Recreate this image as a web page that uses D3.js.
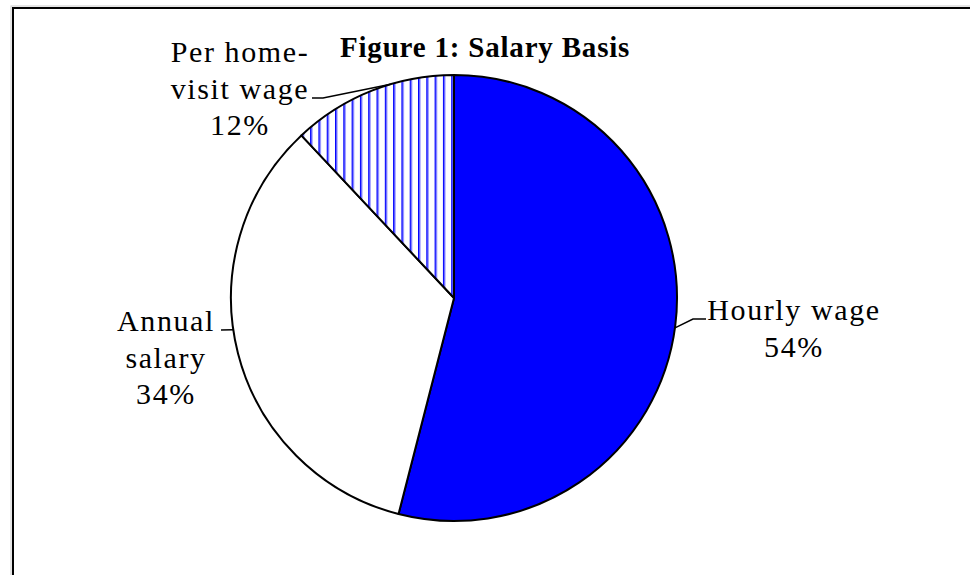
<!DOCTYPE html>
<html><head><meta charset="utf-8">
<script src="https://cdn.jsdelivr.net/npm/d3@7"></script>
<style>
html,body{margin:0;padding:0;background:#fff;overflow:hidden}
svg{display:block}
text{font-family:"Liberation Serif","Times New Roman",serif;fill:#000}
</style></head>
<body>
<script>
// ---- data ----
const categories = ["Hourly wage", "Annual salary", "Per home-visit wage"];
const values = [54, 34, 12];
const labelLines = [["Hourly wage"], ["Annual", "salary"], ["Per home-", "visit wage"]];
const title = "Figure 1: Salary Basis";

// ---- layout ----
const W = 970, H = 575;
const cx = 454, cy = 298, R = 223;
const svg = d3.select("body").append("svg").attr("width", W).attr("height", H);

// frame
svg.append("rect").attr("x", 11).attr("y", 6).attr("width", 1000).attr("height", 600)
  .attr("fill", "none").attr("stroke", "#ccc").attr("stroke-width", 1);
svg.append("rect").attr("x", 13).attr("y", 8).attr("width", 1000).attr("height", 600)
  .attr("fill", "none").attr("stroke", "#000").attr("stroke-width", 2);

// pattern
const defs = svg.append("defs");
const pat = defs.append("pattern").attr("id", "vstripe").attr("patternUnits", "userSpaceOnUse")
  .attr("x", 420.5).attr("y", 0).attr("width", 8.3).attr("height", 10);
pat.append("rect").attr("width", 8.3).attr("height", 10).attr("fill", "#fff");
pat.append("rect").attr("x", 0).attr("width", 1.6).attr("height", 10).attr("fill", "#0000ff");
pat.append("rect").attr("x", 1.6).attr("width", 1).attr("height", 10).attr("fill", "#9999ff");

const fills = ["#0000ff", "#ffffff", "url(#vstripe)"];

const pie = d3.pie().sort(null).value(d => d).startAngle(0).endAngle(2 * Math.PI);
const arcs = pie(values);
const arc = d3.arc().innerRadius(0).outerRadius(R);

const g = svg.append("g").attr("transform", `translate(${cx},${cy})`);
g.selectAll("path.slice").data(arcs).enter().append("path")
  .attr("class", "slice")
  .attr("d", arc)
  .attr("fill", (d, i) => fills[i])
  .attr("stroke", "#000").attr("stroke-width", 2).attr("stroke-linejoin", "round");

// title
svg.append("text").attr("x", 340).attr("y", 57).attr("text-anchor", "start")
  .attr("font-weight", "bold").attr("font-size", 29).attr("letter-spacing", 0.8).text(title);

// labels (layout per slice)
const labelLayout = [
  { ang: 97.7, x: 794, y: 320, lead: [[693, 319], [706, 319]] },
  { ang: 261.8, x: 166, y: 331, lead: [[221, 330]] },
  { ang: 343.5, x: 240, y: 62, lead: [[323, 98], [312, 98]] }
];
const lineH = 36.5;
function edgePoint(deg) {
  const a = deg * Math.PI / 180;
  return [cx + R * Math.sin(a), cy - R * Math.cos(a)];
}
arcs.forEach((d, i) => {
  const L = labelLayout[i];
  const pts = [edgePoint(L.ang)].concat(L.lead);
  svg.append("path").attr("d", d3.line()(pts)).attr("fill", "none")
    .attr("stroke", "#000").attr("stroke-width", 1.5);
  const lines = labelLines[i].concat([d3.format(".0f")(d.value) + "%"]);
  const t = svg.append("text").attr("text-anchor", "middle").attr("font-size", 30)
    .attr("letter-spacing", 1.6);
  lines.forEach((s, k) => {
    t.append("tspan").attr("x", L.x).attr("y", L.y + k * lineH).text(s);
  });
});
</script>
</body></html>
